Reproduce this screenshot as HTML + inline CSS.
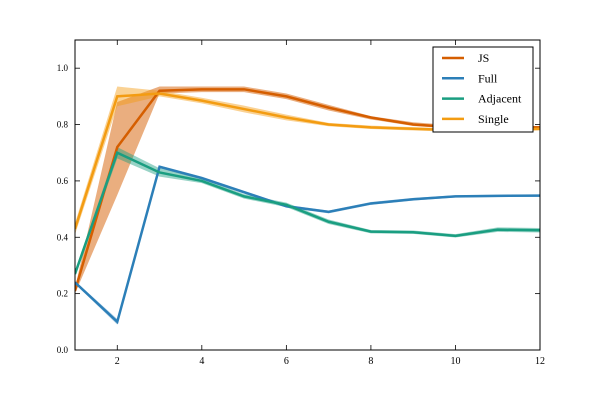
<!DOCTYPE html>
<html><head><meta charset="utf-8"><style>
body{margin:0;background:#fff;}
svg text{font-family:"Liberation Serif",serif;}
</style></head><body>
<svg id="chart" width="600" height="400" xmlns="http://www.w3.org/2000/svg"></svg>
<script>
const xValues=[1,2,3,4,5,6,7,8,9,10,11,12];
const jsVals=[0.21,0.72,0.92,0.925,0.925,0.90,0.86,0.825,0.80,0.79,0.79,0.79];
const jsLo=[0.20,0.55,0.91,0.915,0.915,0.89,0.85,0.818,0.795,0.785,0.785,0.785];
const jsHi=[0.22,0.88,0.935,0.935,0.935,0.91,0.87,0.83,0.808,0.797,0.795,0.795];
const fullVals=[0.24,0.10,0.65,0.61,0.56,0.51,0.49,0.52,0.535,0.545,0.547,0.548];
const fullBand=[0.005,0.01,0.005,0.005,0.005,0.005,0.005,0.005,0.005,0.004,0.004,0.004];
const adjVals=[0.27,0.70,0.63,0.60,0.545,0.515,0.455,0.42,0.418,0.405,0.427,0.425];
const adjBand=[0.01,0.02,0.015,0.008,0.008,0.008,0.008,0.006,0.006,0.006,0.008,0.008];
const singleVals=[0.43,0.90,0.91,0.885,0.855,0.825,0.80,0.79,0.785,0.78,0.78,0.785];
const singleBand=[0.02,0.035,0.01,0.01,0.012,0.01,0.006,0.006,0.006,0.006,0.006,0.006];
const xTicks=[2,4,6,8,10,12];
const yTicks=[0.0,0.2,0.4,0.6,0.8,1.0];
const yTickLabels=["0.0","0.2","0.4","0.6","0.8","1.0"];
const legendLabels=["JS","Full","Adjacent","Single"];

const L=75,R=540,T=40,B=350,xMin=1,xMax=12,yMin=0,yMax=1.1;
const sx=v=>L+(v-xMin)/(xMax-xMin)*(R-L);
const sy=v=>B-(v-yMin)/(yMax-yMin)*(B-T);
const svg=document.getElementById('chart');
const NS='http://www.w3.org/2000/svg';
function mk(tag,attrs,parent){const e=document.createElementNS(NS,tag);for(const k in attrs)e.setAttribute(k,attrs[k]);(parent||svg).appendChild(e);return e;}

const clip=mk('clipPath',{id:'pc'});mk('rect',{x:L,y:T,width:R-L,height:B-T},clip);
const plot=mk('g',{'clip-path':'url(#pc)'});



function band(lo,hi,color,name,op){
  let d='M'+xValues.map((x,i)=>sx(x)+','+sy(hi[i])).join('L');
  d+='L'+xValues.slice().reverse().map((x,j)=>{const i=xValues.length-1-j;return sx(x)+','+sy(lo[i]);}).join('L')+'Z';
  const p=mk('path',{d:d,fill:color,'fill-opacity':op,stroke:'none'},plot);
  
  
}
function line(vals,color,name){
  const d='M'+xValues.map((x,i)=>sx(x)+','+sy(vals[i])).join('L');
  const p=mk('path',{d:d,fill:'none',stroke:color,'stroke-width':2.5,'stroke-linejoin':'miter'},plot);
  
  
}
const cJS='#d55e00',cFull='#2c7fb8',cAdj='#1a9e81',cSingle='#f39c12';
band(jsLo,jsHi,cJS,'js',0.5);
band(fullVals.map((v,i)=>v-fullBand[i]),fullVals.map((v,i)=>v+fullBand[i]),cFull,'full',0.4);
band(adjVals.map((v,i)=>v-adjBand[i]),adjVals.map((v,i)=>v+adjBand[i]),cAdj,'adjacent',0.45);
band(singleVals.map((v,i)=>v-singleBand[i]),singleVals.map((v,i)=>v+singleBand[i]),cSingle,'single',0.45);
line(jsVals,cJS,'js');
line(fullVals,cFull,'full');
line(adjVals,cAdj,'adjacent');
line(singleVals,cSingle,'single');

const frame=mk('rect',{x:L,y:T,width:R-L,height:B-T,fill:'none',stroke:'#000','stroke-width':1});



xTicks.forEach(t=>{
  const x=sx(t);
  mk('line',{x1:x,x2:x,y1:B,y2:B-5,stroke:'#000','stroke-width':0.8});
  mk('line',{x1:x,x2:x,y1:T,y2:T+5,stroke:'#000','stroke-width':0.8});
  const tx=mk('text',{x:x,y:B+14,'font-size':10,'text-anchor':'middle'});
  tx.textContent=String(t);
  
  
});
yTicks.forEach((t,i)=>{
  const y=sy(t);
  mk('line',{x1:L,x2:L+5,y1:y,y2:y,stroke:'#000','stroke-width':0.8});
  mk('line',{x1:R,x2:R-5,y1:y,y2:y,stroke:'#000','stroke-width':0.8});
  const tx=mk('text',{x:L-7,y:y+3,'font-size':9,'text-anchor':'end'});
  tx.textContent=yTickLabels[i];
  
  
});

const lg=mk('g',{});


mk('rect',{x:433,y:47,width:100,height:85,fill:'#fff',stroke:'#000','stroke-width':1},lg);
const lc=[cJS,cFull,cAdj,cSingle];
legendLabels.forEach((lab,i)=>{
  const y=58+i*20.3;
  const ln=mk('line',{x1:442,x2:464,y1:y,y2:y,stroke:lc[i],'stroke-width':2.5},lg);
  
  
  const tx=mk('text',{x:478,y:y+4,'font-size':12},lg);
  tx.textContent=lab;
  
  
});
</script>
</body></html>
